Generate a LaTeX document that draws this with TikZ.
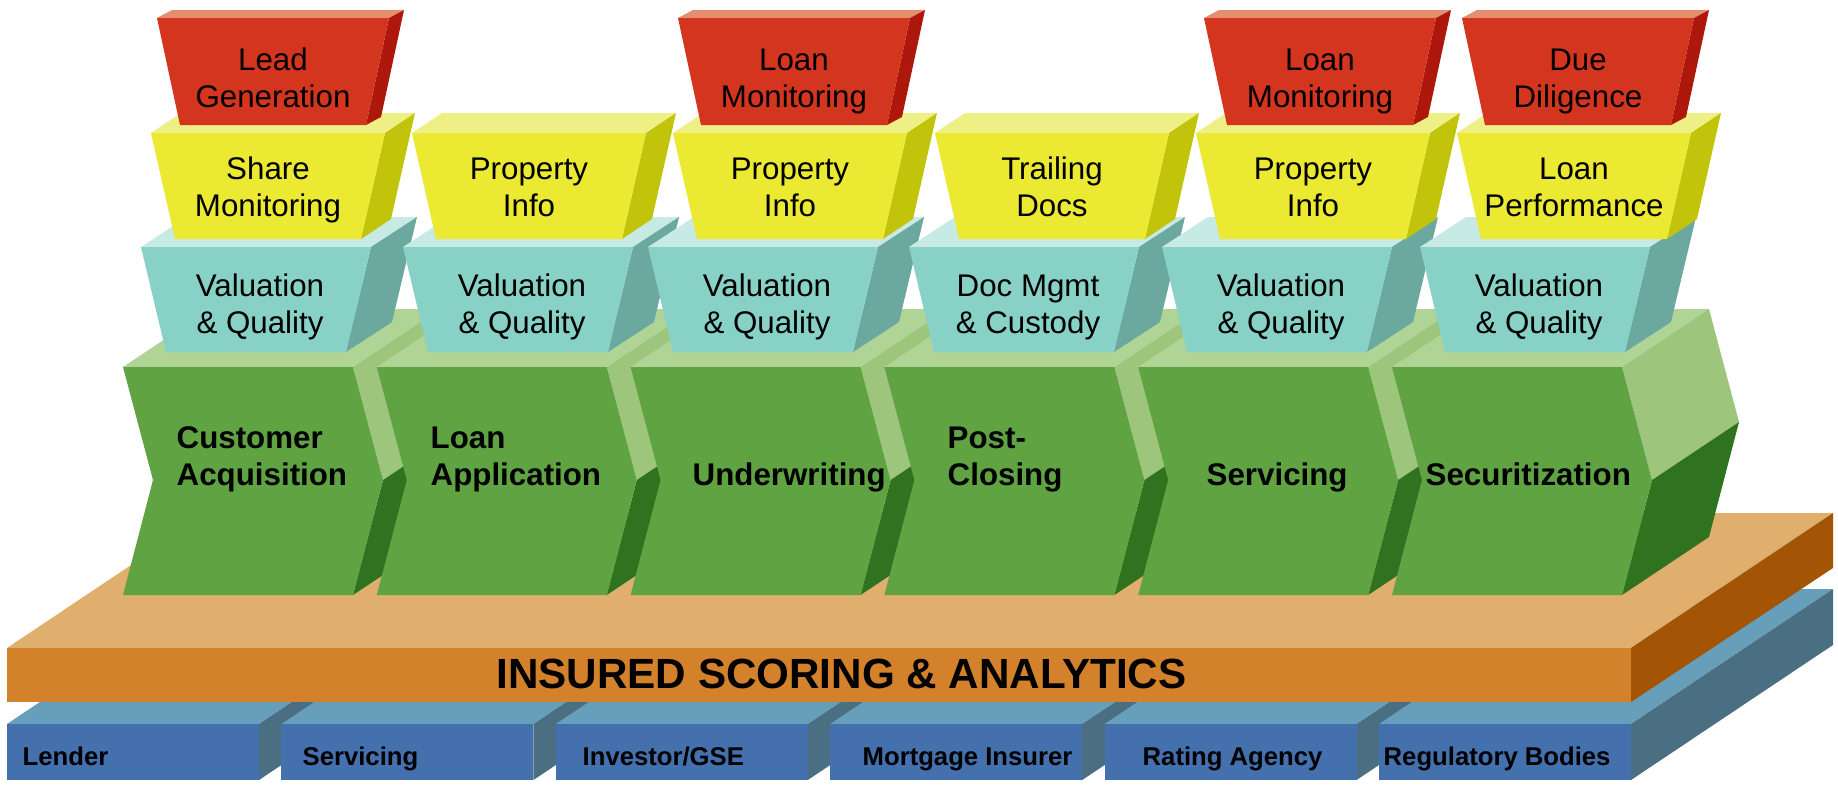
\documentclass[tikz,border=0pt]{standalone}
\usepackage{fontspec}
\setmainfont{Liberation Sans}
\usepackage{tikz}

\definecolor{redfront}{HTML}{D3351F}
\definecolor{redtop}{HTML}{E48E70}
\definecolor{redside}{HTML}{AE180C}
\definecolor{yelfront}{HTML}{EBE931}
\definecolor{yeltop}{HTML}{EEEF84}
\definecolor{yelside}{HTML}{C2C40B}
\definecolor{tealfront}{HTML}{88D1C7}
\definecolor{tealtop}{HTML}{C8EAE5}
\definecolor{tealside}{HTML}{6AA8A0}
\definecolor{grnfront}{HTML}{5FA343}
\definecolor{grntop}{HTML}{AFD495}
\definecolor{grnslant}{HTML}{9DC57B}
\definecolor{grnside}{HTML}{2F7220}
\definecolor{orgfront}{HTML}{D3822B}
\definecolor{orgtop}{HTML}{E0AE6D}
\definecolor{orgside}{HTML}{A35404}
\definecolor{bluefront}{HTML}{4470AE}
\definecolor{bluetop}{HTML}{679EBA}
\definecolor{blueside}{HTML}{4B6F82}

\begin{document}
\begin{tikzpicture}
	[x=0.01cm,y=-0.01cm,every node/.style={inner sep=0pt,text=black},
	boxlabel/.style={font=\fontsize{8.9}{10.4}\selectfont,align=center},
	stagelabel/.style={font=\bfseries\fontsize{8.9}{10.4}\selectfont,align=left,anchor=south west},
	partylabel/.style={font=\bfseries\fontsize{7.3}{8.8}\selectfont,anchor=base west}]
	\fill[white] (0,0) rectangle (1838,784);
	\useasboundingbox (0,0) rectangle (1838,784);
	
	% parties along the base
	\foreach \i/\lx/\txt in {0/22/Lender,1/302/Servicing,2/582/{Investor/GSE},3/862/Mortgage Insurer,4/1142/Rating Agency,5/1383/Regulatory Bodies}{
		\pgfmathsetmacro\xa{7+274.4*\i}
		\fill[bluetop] (\xa,724) -- (\xa+202,589) -- (\xa+454,589) -- (\xa+252,724) -- cycle;
		\fill[blueside] (\xa+252,724) -- (\xa+454,589) -- (\xa+454,645) -- (\xa+252,780) -- cycle;
		\fill[bluefront] (\xa,724) rectangle (\xa+252,780);
		\node[partylabel] (party\i) at (\lx,765) {\txt};
	}
	
	% analytics slab
	\fill[orgtop] (7,648) -- (209,513) -- (1833,513) -- (1631,648) -- cycle;
	\fill[orgside] (1631,648) -- (1833,513) -- (1833,568) -- (1631,702) -- cycle;
	\fill[orgfront] (7,648) rectangle (1631,702);
	\node[font=\bfseries\fontsize{12}{14}\selectfont,anchor=base] (title) at (841.5,688) {INSURED SCORING \& ANALYTICS};
	
	% process chevrons
	\foreach \i/\lx/\txt in {0/176/{Customer\\Acquisition},1/430/{Loan\\Application},2/692/Underwriting,3/947/{Post-\\Closing},4/1206/Servicing,5/1425/Securitization}{
		\pgfmathsetmacro\xl{123+253.8*\i}
		\fill[grntop] (\xl,367) -- (\xl+87,309) -- (\xl+317,309) -- (\xl+230,367) -- cycle;
		\fill[grnslant] (\xl+230,367) -- (\xl+317,309) -- (\xl+347,422) -- (\xl+260,480) -- cycle;
		\fill[grnside] (\xl+260,480) -- (\xl+347,422) -- (\xl+317,537) -- (\xl+230,595) -- cycle;
		\fill[grnfront] (\xl,367) -- (\xl+230,367) -- (\xl+260,480) -- (\xl+230,595) -- (\xl,595) -- (\xl+30,480) -- cycle;
		\node[stagelabel] (stage\i) at (\lx,497) {\txt\strut};
	}
	
	% first tier
	\foreach \i/\cx/\txt in {1/256/{Valuation\\\& Quality},2/518/{Valuation\\\& Quality},3/763/{Valuation\\\& Quality},4/1024/{Doc Mgmt\\\& Custody},5/1277/{Valuation\\\& Quality},6/1535/{Valuation\\\& Quality}}{
		\fill[tealtop] (\cx-115,247) -- (\cx-69,217) -- (\cx+161,217) -- (\cx+115,247) -- cycle;
		\fill[tealside] (\cx+115,247) -- (\cx+161,217) -- (\cx+136,322) -- (\cx+90,352) -- cycle;
		\fill[tealfront] (\cx-115,247) -- (\cx+115,247) -- (\cx+90,352) -- (\cx-90,352) -- cycle;
		\node[boxlabel] (qual\i) at (\cx+4,307.7) {\strut\txt\strut};
	}
	
	% second tier
	\foreach \i/\cx/\txt in {1/268/{Share\\Monitoring},2/529/{Property\\Info},3/790/{Property\\Info},4/1052/{Trailing\\Docs},5/1313/{Property\\Info},6/1574/{Loan\\Performance}}{
		\fill[yeltop] (\cx-117,133) -- (\cx-87,113) -- (\cx+147,113) -- (\cx+117,133) -- cycle;
		\fill[yelside] (\cx+117,133) -- (\cx+147,113) -- (\cx+123,219) -- (\cx+93,239) -- cycle;
		\fill[yelfront] (\cx-117,133) -- (\cx+117,133) -- (\cx+93,239) -- (\cx-93,239) -- cycle;
		\node[boxlabel] (info\i) at (\cx,190.7) {\strut\txt\strut};
	}
	
	% top tier
	\foreach \i/\cx/\txt in {1/273/{Lead\\Generation},3/794/{Loan\\Monitoring},5/1320/{Loan\\Monitoring},6/1578/{Due\\Diligence}}{
		\fill[redtop] (\cx-116,18) -- (\cx-101,10) -- (\cx+131,10) -- (\cx+116,18) -- cycle;
		\fill[redside] (\cx+116,18) -- (\cx+131,10) -- (\cx+108,117) -- (\cx+93,125) -- cycle;
		\fill[redfront] (\cx-116,18) -- (\cx+116,18) -- (\cx+93,125) -- (\cx-93,125) -- cycle;
		\node[boxlabel] (mon\i) at (\cx,81.7) {\strut\txt\strut};
	}
\end{tikzpicture}
\end{document}
